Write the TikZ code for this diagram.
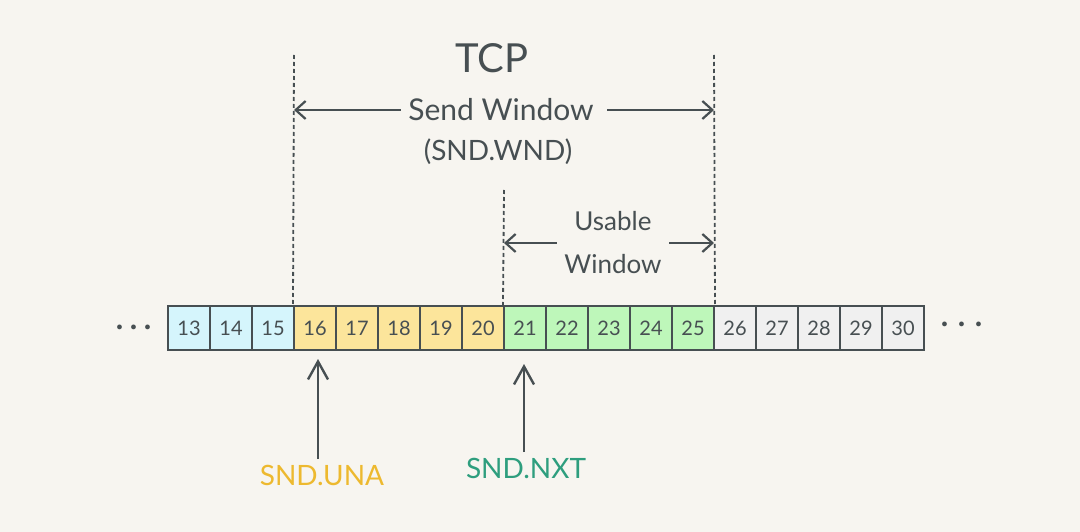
\documentclass[tikz,border=0pt]{standalone}
\usepackage{fontspec}
\setmainfont{Lato}
\usetikzlibrary{arrows.meta}

\definecolor{paper}{HTML}{F7F5F0}
\definecolor{inkgray}{HTML}{474F52}
\definecolor{cellblue}{HTML}{D5F5FC}
\definecolor{cellyellow}{HTML}{FCE59B}
\definecolor{cellgreen}{HTML}{BEF7BA}
\definecolor{cellgray}{HTML}{F0F0F0}
\definecolor{unacolor}{HTML}{EDB92F}
\definecolor{nxtcolor}{HTML}{2E9E7E}

\begin{document}
\begin{tikzpicture}[%
      x=1pt, y=-1pt,
      cell/.style={draw=inkgray, line width=2pt, minimum width=42pt,
        minimum height=44pt, inner sep=0pt, text=inkgray,
        font=\fontsize{20}{24}\selectfont},
      guide/.style={color=inkgray, line width=1.8pt, dash pattern=on 4pt off 3pt},
      span/.style={color=inkgray, line width=2.2pt, -{Straight Barb[length=10pt,width=18pt]}},
      pointer/.style={color=inkgray, line width=2.4pt, -{Straight Barb[length=18pt,width=20pt]}},
      ]
      \fill [paper] (0,0) rectangle (1080,532);
      \useasboundingbox (0,0) rectangle (1080,532);

      % sequence numbers
      \foreach \n in {13,...,15}
        \node [cell, fill=cellblue] (c\n) at ({189+42*(\n-13)},328) {\n};
      \foreach \n in {16,...,20}
        \node [cell, fill=cellyellow] (c\n) at ({189+42*(\n-13)},328) {\n};
      \foreach \n in {21,...,25}
        \node [cell, fill=cellgreen] (c\n) at ({189+42*(\n-13)},328) {\n};
      \foreach \n in {26,...,30}
        \node [cell, fill=cellgray] (c\n) at ({189+42*(\n-13)},328) {\n};

      \node [text=inkgray, font=\fontsize{38}{38}\selectfont] (dotsL) at (134,327) {.\hspace{5pt}.\hspace{5pt}.};
      \node [text=inkgray, font=\fontsize{38}{38}\selectfont] (dotsR) at (962,324) {.\hspace{8pt}.\hspace{8pt}.};

      % window edges
      \coordinate (sendL) at (294,55);
      \coordinate (sendR) at (714,55);
      \coordinate (useL) at (504,190);
      \draw [guide] (sendL) -- (c16.north west);
      \draw [guide] (sendR) -- (c25.north east);
      \draw [guide] (useL) -- (c21.north west);

      % labels
      \node [text=inkgray, font=\fontsize{40}{40}\selectfont] (tcp) at (492,58) {TCP};
      \node [text=inkgray, font=\fontsize{30}{30}\selectfont] (send) at (501,110) {Send Window};
      \node [text=inkgray, font=\fontsize{28}{28}\selectfont] (sndwnd) at (498,152) {(SND.WND)};
      \node [text=inkgray, font=\fontsize{26}{26}\selectfont, align=center] (usable)
        at (613,243) {Usable\\[17pt]Window};

      \draw [span, shorten <=4pt] (send.west) -- (send.west -| sendL);
      \draw [span, shorten <=10pt] (send.east) -- (send.east -| sendR);
      \draw [span, shorten <=4pt] (usable.west) -- (usable.west -| useL);
      \draw [span, shorten <=4pt] (usable.east) -- (usable.east -| sendR);

      % pointers
      \node [text=unacolor, font=\fontsize{28}{28}\selectfont] (una) at (322,475) {SND.UNA};
      \node [text=nxtcolor, font=\fontsize{28}{28}\selectfont] (nxt) at (526,468) {SND.NXT};
      \draw [pointer, shorten <=2pt, shorten >=8pt] ([xshift=-4pt]una.north) -- ([xshift=-4pt]una.north |- c16.south);
      \draw [pointer, shorten <=2pt, shorten >=13pt] ([xshift=-2pt]nxt.north) -- ([xshift=-2pt]nxt.north |- c21.south);
\end{tikzpicture}
\end{document}
